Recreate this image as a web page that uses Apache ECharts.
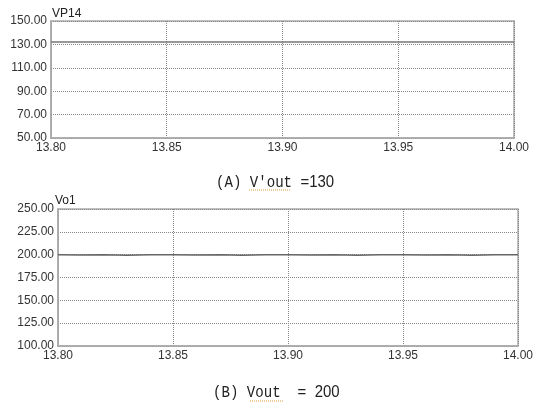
<!DOCTYPE html>
<html><head><meta charset="utf-8">
<script src="https://cdn.jsdelivr.net/npm/echarts@6/dist/echarts.min.js"></script>
<style>html,body{margin:0;padding:0;background:#fff}#c{width:539px;height:406px}</style>
</head><body><div id="c"></div>
<script>
// Data
const timeA = [13.80, 13.82, 13.84, 13.86, 13.88, 13.90, 13.92, 13.94, 13.96, 13.98, 14.00];
const vp14 = [132, 132, 132, 132, 132, 132, 132, 132, 132, 132, 132];
const timeB = [13.800, 13.810, 13.820, 13.830, 13.840, 13.850, 13.860, 13.870, 13.880, 13.890, 13.900, 13.910, 13.920, 13.930, 13.940, 13.950, 13.960, 13.970, 13.980, 13.990, 14.000];
const vo1 = [200.0, 199.6, 199.8, 199.4, 199.8, 200.0, 199.5, 199.8, 199.4, 199.8, 200.0, 199.5, 199.8, 199.4, 199.8, 200.0, 199.5, 199.8, 199.4, 199.8, 200.0];
const xTicksMin = 13.80, xTicksMax = 14.00, xStep = 0.05;
const yA = {min: 50, max: 150, step: 20, name: 'VP14'};
const yB = {min: 100, max: 250, step: 25, name: 'Vo1'};
const captionA = ["(A) V'out ", "=130"];
const captionB = ["(B) Vout  ", "=", " ", "200"];

const chart = echarts.init(document.getElementById('c'));
const lbl = {color: '#333', fontFamily: 'Liberation Sans, Arial', fontSize: 12};
const split = {show: true, lineStyle: {type: 'dotted', color: '#888', width: 1}};
function xAx(i) {
  return {gridIndex: i, type: 'value', min: xTicksMin, max: xTicksMax, interval: xStep,
    axisLine: {show: true, lineStyle: {color: '#aaa', width: 1.5}}, axisTick: {show: false},
    axisLabel: Object.assign({formatter: v => v.toFixed(2), margin: 4}, lbl),
    splitLine: split};
}
function yAx(i, y) {
  return {gridIndex: i, type: 'value', min: y.min, max: y.max, interval: y.step,
    axisLine: {show: true, lineStyle: {color: '#aaa', width: 1.5}}, axisTick: {show: false},
    axisLabel: Object.assign({formatter: v => v.toFixed(2), margin: 4}, lbl),
    splitLine: split};
}
const mono = {fontFamily: 'Liberation Mono', fontSize: 16, fill: '#222'};
const narrow = {fontFamily: 'Liberation Sans', fontSize: 17, fill: '#222'};
chart.setOption({
  animation: false,
  grid: [
    {left: 51, right: 25, top: 21, height: 117, show: true, borderColor: '#aaa', borderWidth: 1.5},
    {left: 58, right: 21, top: 209, height: 137, show: true, borderColor: '#aaa', borderWidth: 1.5}
  ],
  xAxis: [xAx(0), xAx(1)],
  yAxis: [yAx(0, yA), yAx(1, yB)],
  series: [
    {type: 'line', xAxisIndex: 0, yAxisIndex: 0, data: timeA.map((t, i) => [t, vp14[i]]), showSymbol: false, lineStyle: {color: '#777', width: 1.5}},
    {type: 'line', xAxisIndex: 1, yAxisIndex: 1, data: timeB.map((t, i) => [t, vo1[i]]), showSymbol: false, lineStyle: {color: '#666', width: 1.5}}
  ],
  graphic: [
    {type: 'text', left: 52, top: 8, style: {text: yA.name, fontFamily: 'Liberation Sans', fontSize: 12, fill: '#222'}},
    {type: 'text', left: 55, top: 195, style: {text: yB.name, fontFamily: 'Liberation Sans', fontSize: 12, fill: '#222'}},
    {type: 'text', x: 216, y: 174, scaleX: 0.88, style: {
      text: '{m|' + captionA[0] + '}{s|' + captionA[1] + '}', rich: {m: mono, s: narrow}}},
    {type: 'text', x: 213, y: 384, scaleX: 0.88, style: {
      text: '{m|' + captionB[0] + '}{s|' + captionB[1] + '}{m|' + captionB[2] + '}{s|' + captionB[3] + '}', rich: {m: mono, s: narrow}}},
    {type: 'line', shape: {x1: 249, y1: 190, x2: 291, y2: 190}, style: {stroke: '#e0a040', lineWidth: 1, lineDash: [1, 1]}},
    {type: 'line', shape: {x1: 250, y1: 401, x2: 283, y2: 401}, style: {stroke: '#e0a040', lineWidth: 1, lineDash: [1, 1]}}
  ]
});
</script></body></html>
